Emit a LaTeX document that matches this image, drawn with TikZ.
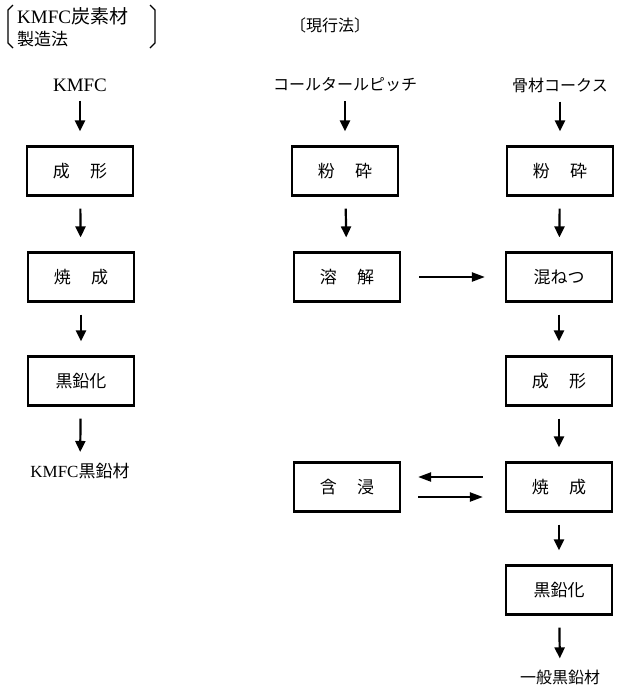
\documentclass[tikz,border=0pt]{standalone}
\usepackage{fontspec}
\setmainfont{Liberation Serif}
\newfontfamily\jp{Noto Sans CJK JP}
\usetikzlibrary{arrows.meta}
\begin{document}
\begin{tikzpicture}[x=1pt,y=-1pt,
  box/.style={draw,line width=2.2pt,minimum width=106pt,minimum height=49pt,inner sep=0pt,font=\jp\fontsize{17}{20}\selectfont},
  lbl/.style={inner sep=1pt,font=\jp\fontsize{16}{19}\selectfont},
  arr/.style={line width=2.2pt,-{Triangle[length=11pt,width=10pt]},shorten <=12pt,shorten >=14pt},
  harr/.style={line width=2.2pt,-{Triangle[length=13pt,width=9pt]}},
  brk/.style={line width=1.2pt}]
\useasboundingbox (0,0) rectangle (625,689);
% left column header
\node[anchor=west,inner sep=0pt,font=\fontsize{19}{21}\selectfont] (hdrL1) at (17,16) {KMFC\jp 炭素材};
\node[anchor=west,inner sep=0pt,font=\jp\fontsize{17}{19}\selectfont] (hdrL2) at (17,39) {製造法};
\draw[brk] (13,5) -- (8,10) -- (8,43) -- (13,48);
\draw[brk] (150,5) -- (155,10) -- (155,43) -- (150,48);
% left column
\node[inner sep=1pt,font=\fontsize{19}{21}\selectfont] (kmfc) at (80,85) {KMFC};
\node[box] (l1) at (80,171) {成\hspace{1.2em}形};
\node[box] (l2) at (81,277) {焼\hspace{1.2em}成};
\node[box] (l3) at (81,381) {黒鉛化};
\node[inner sep=1pt,font=\fontsize{17}{19}\selectfont] (lout) at (80,471) {KMFC\jp 黒鉛材};
\draw[arr,shorten <=8pt] (kmfc) -- (l1);
\draw[arr] (l1) -- (l2);
\draw[arr] (l2) -- (l3);
\draw[arr,shorten >=10pt] (l3) -- (lout);
% middle column
\node[lbl] (hdrM) at (330,25) {〔現行法〕};
\node[lbl] (pitch) at (345,85) {コールタールピッチ};
\node[box] (m1) at (345,171) {粉\hspace{1.2em}砕};
\node[box] (m2) at (347,277) {溶\hspace{1.2em}解};
\node[box] (m3) at (347,487) {含\hspace{1.2em}浸};
\draw[arr,shorten <=8pt] (pitch) -- (m1);
\draw[arr] (m1) -- (m2);
% right column
\node[lbl] (coke) at (560,85) {骨材コークス};
\node[box] (r1) at (560,171) {粉\hspace{1.2em}砕};
\node[box] (r2) at (559,277) {混ねつ};
\node[box] (r3) at (559,381) {成\hspace{1.2em}形};
\node[box] (r4) at (559,487) {焼\hspace{1.2em}成};
\node[box] (r5) at (559,590) {黒鉛化};
\node[lbl] (rout) at (560,677) {一般黒鉛材};
\draw[arr,shorten <=8pt] (coke) -- (r1);
\draw[arr] (r1) -- (r2);
\draw[arr] (r2) -- (r3);
\draw[arr] (r3) -- (r4);
\draw[arr] (r4) -- (r5);
\draw[arr,shorten >=10pt] (r5) -- (rout);
% horizontal arrows
\draw[harr,shorten <=18pt,shorten >=20pt] (m2) -- (r2);
\draw[harr,shorten <=22pt,shorten >=17pt] ([yshift=10pt]r4.west) -- ([yshift=10pt]m3.east);
\draw[harr,shorten <=17pt,shorten >=22pt] ([yshift=-10pt]m3.east) -- ([yshift=-10pt]r4.west);
\end{tikzpicture}
\end{document}
